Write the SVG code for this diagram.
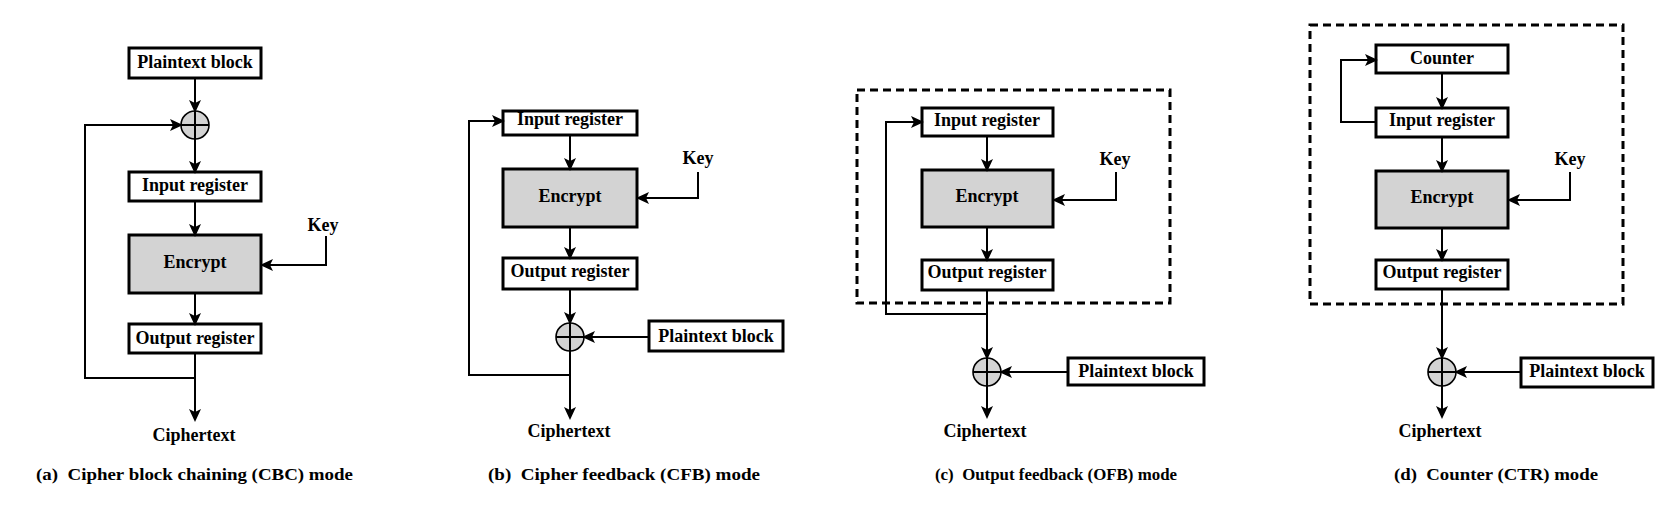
<svg xmlns="http://www.w3.org/2000/svg" width="1661" height="511" viewBox="0 0 1661 511">
<style>
.box{fill:#fff;stroke:#000;stroke-width:3}
.enc{fill:#d3d3d3;stroke:#000;stroke-width:3}
.xor{fill:#d3d3d3;stroke:#000;stroke-width:1.6}
.xl{stroke:#000;stroke-width:2;fill:none}
.ln{fill:none;stroke:#000;stroke-width:2}
.arr{marker-end:url(#ah)}
.dash{fill:none;stroke:#000;stroke-width:3;stroke-dasharray:8 5}
text{font-family:"Liberation Serif","Times New Roman",serif;font-weight:bold;fill:#000}
.t{font-size:18px;text-anchor:middle}
.cap{font-size:17px}
</style>
<defs>
<marker id="ah" markerUnits="userSpaceOnUse" markerWidth="14" markerHeight="12" refX="11" refY="6" orient="auto">
<path d="M0,0 L13,6 L0,12 L3,6 z" fill="#000"/>
</marker>
</defs>
<rect x="0" y="0" width="1661" height="511" fill="#fff"/>

<!-- Panel (a) CBC -->
<g id="a-plaintext"><rect class="box" x="129" y="48" width="132" height="30"/><text class="t" x="195" y="68">Plaintext block</text></g>
<g id="a-xor"><circle class="xor" cx="195" cy="125" r="14"/><path class="xl" d="M181,125 H209 M195,111 V139"/></g>
<g id="a-input"><rect class="box" x="129" y="172" width="132" height="29"/><text class="t" x="195" y="191">Input register</text></g>
<g id="a-encrypt"><rect class="enc" x="129" y="235" width="132" height="58"/><text class="t" x="195" y="268">Encrypt</text></g>
<g id="a-output"><rect class="box" x="129" y="324" width="132" height="29"/><text class="t" x="195" y="344">Output register</text></g>
<g id="a-key"><text class="t" x="323" y="231">Key</text></g>
<g id="a-cipher"><text class="t" x="194" y="441">Ciphertext</text></g>

<!-- Panel (b) CFB -->
<g id="b-input"><rect class="box" x="503" y="111" width="134" height="24"/><text class="t" x="570" y="125">Input register</text></g>
<g id="b-encrypt"><rect class="enc" x="503" y="169" width="134" height="58"/><text class="t" x="570" y="202">Encrypt</text></g>
<g id="b-output"><rect class="box" x="503" y="258" width="134" height="31"/><text class="t" x="570" y="277">Output register</text></g>
<g id="b-xor"><circle class="xor" cx="570" cy="337" r="14"/><path class="xl" d="M556,337 H584 M570,323 V351"/></g>
<g id="b-plaintext"><rect class="box" x="649" y="321" width="134" height="30"/><text class="t" x="716" y="342">Plaintext block</text></g>
<g id="b-key"><text class="t" x="698" y="164">Key</text></g>
<g id="b-cipher"><text class="t" x="569" y="437">Ciphertext</text></g>

<!-- Panel (c) OFB -->
<rect class="dash" x="857" y="90" width="313" height="213"/>
<g id="c-input"><rect class="box" x="922" y="108" width="131" height="28"/><text class="t" x="987" y="126">Input register</text></g>
<g id="c-encrypt"><rect class="enc" x="922" y="170" width="131" height="57"/><text class="t" x="987" y="202">Encrypt</text></g>
<g id="c-output"><rect class="box" x="922" y="260" width="131" height="30"/><text class="t" x="987" y="278">Output register</text></g>
<g id="c-key"><text class="t" x="1115" y="165">Key</text></g>
<g id="c-xor"><circle class="xor" cx="987" cy="372" r="14"/><path class="xl" d="M973,372 H1001 M987,358 V386"/></g>
<g id="c-plaintext"><rect class="box" x="1068" y="358" width="136" height="27"/><text class="t" x="1136" y="377">Plaintext block</text></g>
<g id="c-cipher"><text class="t" x="985" y="437">Ciphertext</text></g>

<!-- Panel (d) CTR -->
<rect class="dash" x="1310" y="25" width="313" height="279"/>
<g id="d-counter"><rect class="box" x="1376" y="45" width="132" height="28"/><text class="t" x="1442" y="64">Counter</text></g>
<g id="d-input"><rect class="box" x="1376" y="108" width="132" height="29"/><text class="t" x="1442" y="126">Input register</text></g>
<g id="d-encrypt"><rect class="enc" x="1376" y="171" width="132" height="57"/><text class="t" x="1442" y="203">Encrypt</text></g>
<g id="d-output"><rect class="box" x="1376" y="260" width="132" height="29"/><text class="t" x="1442" y="278">Output register</text></g>
<g id="d-key"><text class="t" x="1570" y="165">Key</text></g>
<g id="d-xor"><circle class="xor" cx="1442" cy="372" r="14"/><path class="xl" d="M1428,372 H1456 M1442,358 V386"/></g>
<g id="d-plaintext"><rect class="box" x="1521" y="358" width="132" height="29"/><text class="t" x="1587" y="377">Plaintext block</text></g>
<g id="d-cipher"><text class="t" x="1440" y="437">Ciphertext</text></g>

<!-- Connectors -->
<g id="connectors">
<path class="ln arr" d="M195,79 V111"/>
<path class="ln arr" d="M195,139 V172"/>
<path class="ln arr" d="M195,202 V235"/>
<path class="ln arr" d="M195,294 V324"/>
<path class="ln arr" d="M195,354 V420"/>
<path class="ln arr" d="M195,378 H85 V125 H181"/>
<path class="ln arr" d="M326,236 V265 H262"/>

<path class="ln arr" d="M570,136 V169"/>
<path class="ln arr" d="M570,228 V258"/>
<path class="ln arr" d="M570,290 V323"/>
<path class="ln arr" d="M649,337 H584"/>
<path class="ln arr" d="M570,351 V418"/>
<path class="ln arr" d="M570,375 H469 V121 H503"/>
<path class="ln arr" d="M698,172 V198 H638"/>

<path class="ln arr" d="M987,137 V170"/>
<path class="ln arr" d="M987,228 V260"/>
<path class="ln arr" d="M987,291 V358"/>
<path class="ln arr" d="M987,314 H886 V122 H922"/>
<path class="ln arr" d="M1068,372 H1001"/>
<path class="ln arr" d="M987,386 V417"/>
<path class="ln arr" d="M1116,172 V200 H1054"/>

<path class="ln arr" d="M1442,74 V108"/>
<path class="ln arr" d="M1442,138 V171"/>
<path class="ln arr" d="M1442,229 V260"/>
<path class="ln arr" d="M1442,290 V358"/>
<path class="ln arr" d="M1376,122 H1341 V60 H1376"/>
<path class="ln arr" d="M1521,372 H1456"/>
<path class="ln arr" d="M1442,386 V417"/>
<path class="ln arr" d="M1570,172 V200 H1509"/>
</g>

<!-- Captions -->
<g id="captions">
<text class="cap" x="36" y="480" xml:space="preserve" textLength="317" lengthAdjust="spacingAndGlyphs">(a)  Cipher block chaining (CBC) mode</text>
<text class="cap" x="488" y="480" xml:space="preserve" textLength="272" lengthAdjust="spacingAndGlyphs">(b)  Cipher feedback (CFB) mode</text>
<text class="cap" x="935" y="480" xml:space="preserve" textLength="242" lengthAdjust="spacingAndGlyphs">(c)  Output feedback (OFB) mode</text>
<text class="cap" x="1394" y="480" xml:space="preserve" textLength="204" lengthAdjust="spacingAndGlyphs">(d)  Counter (CTR) mode</text>
</g>
</svg>
